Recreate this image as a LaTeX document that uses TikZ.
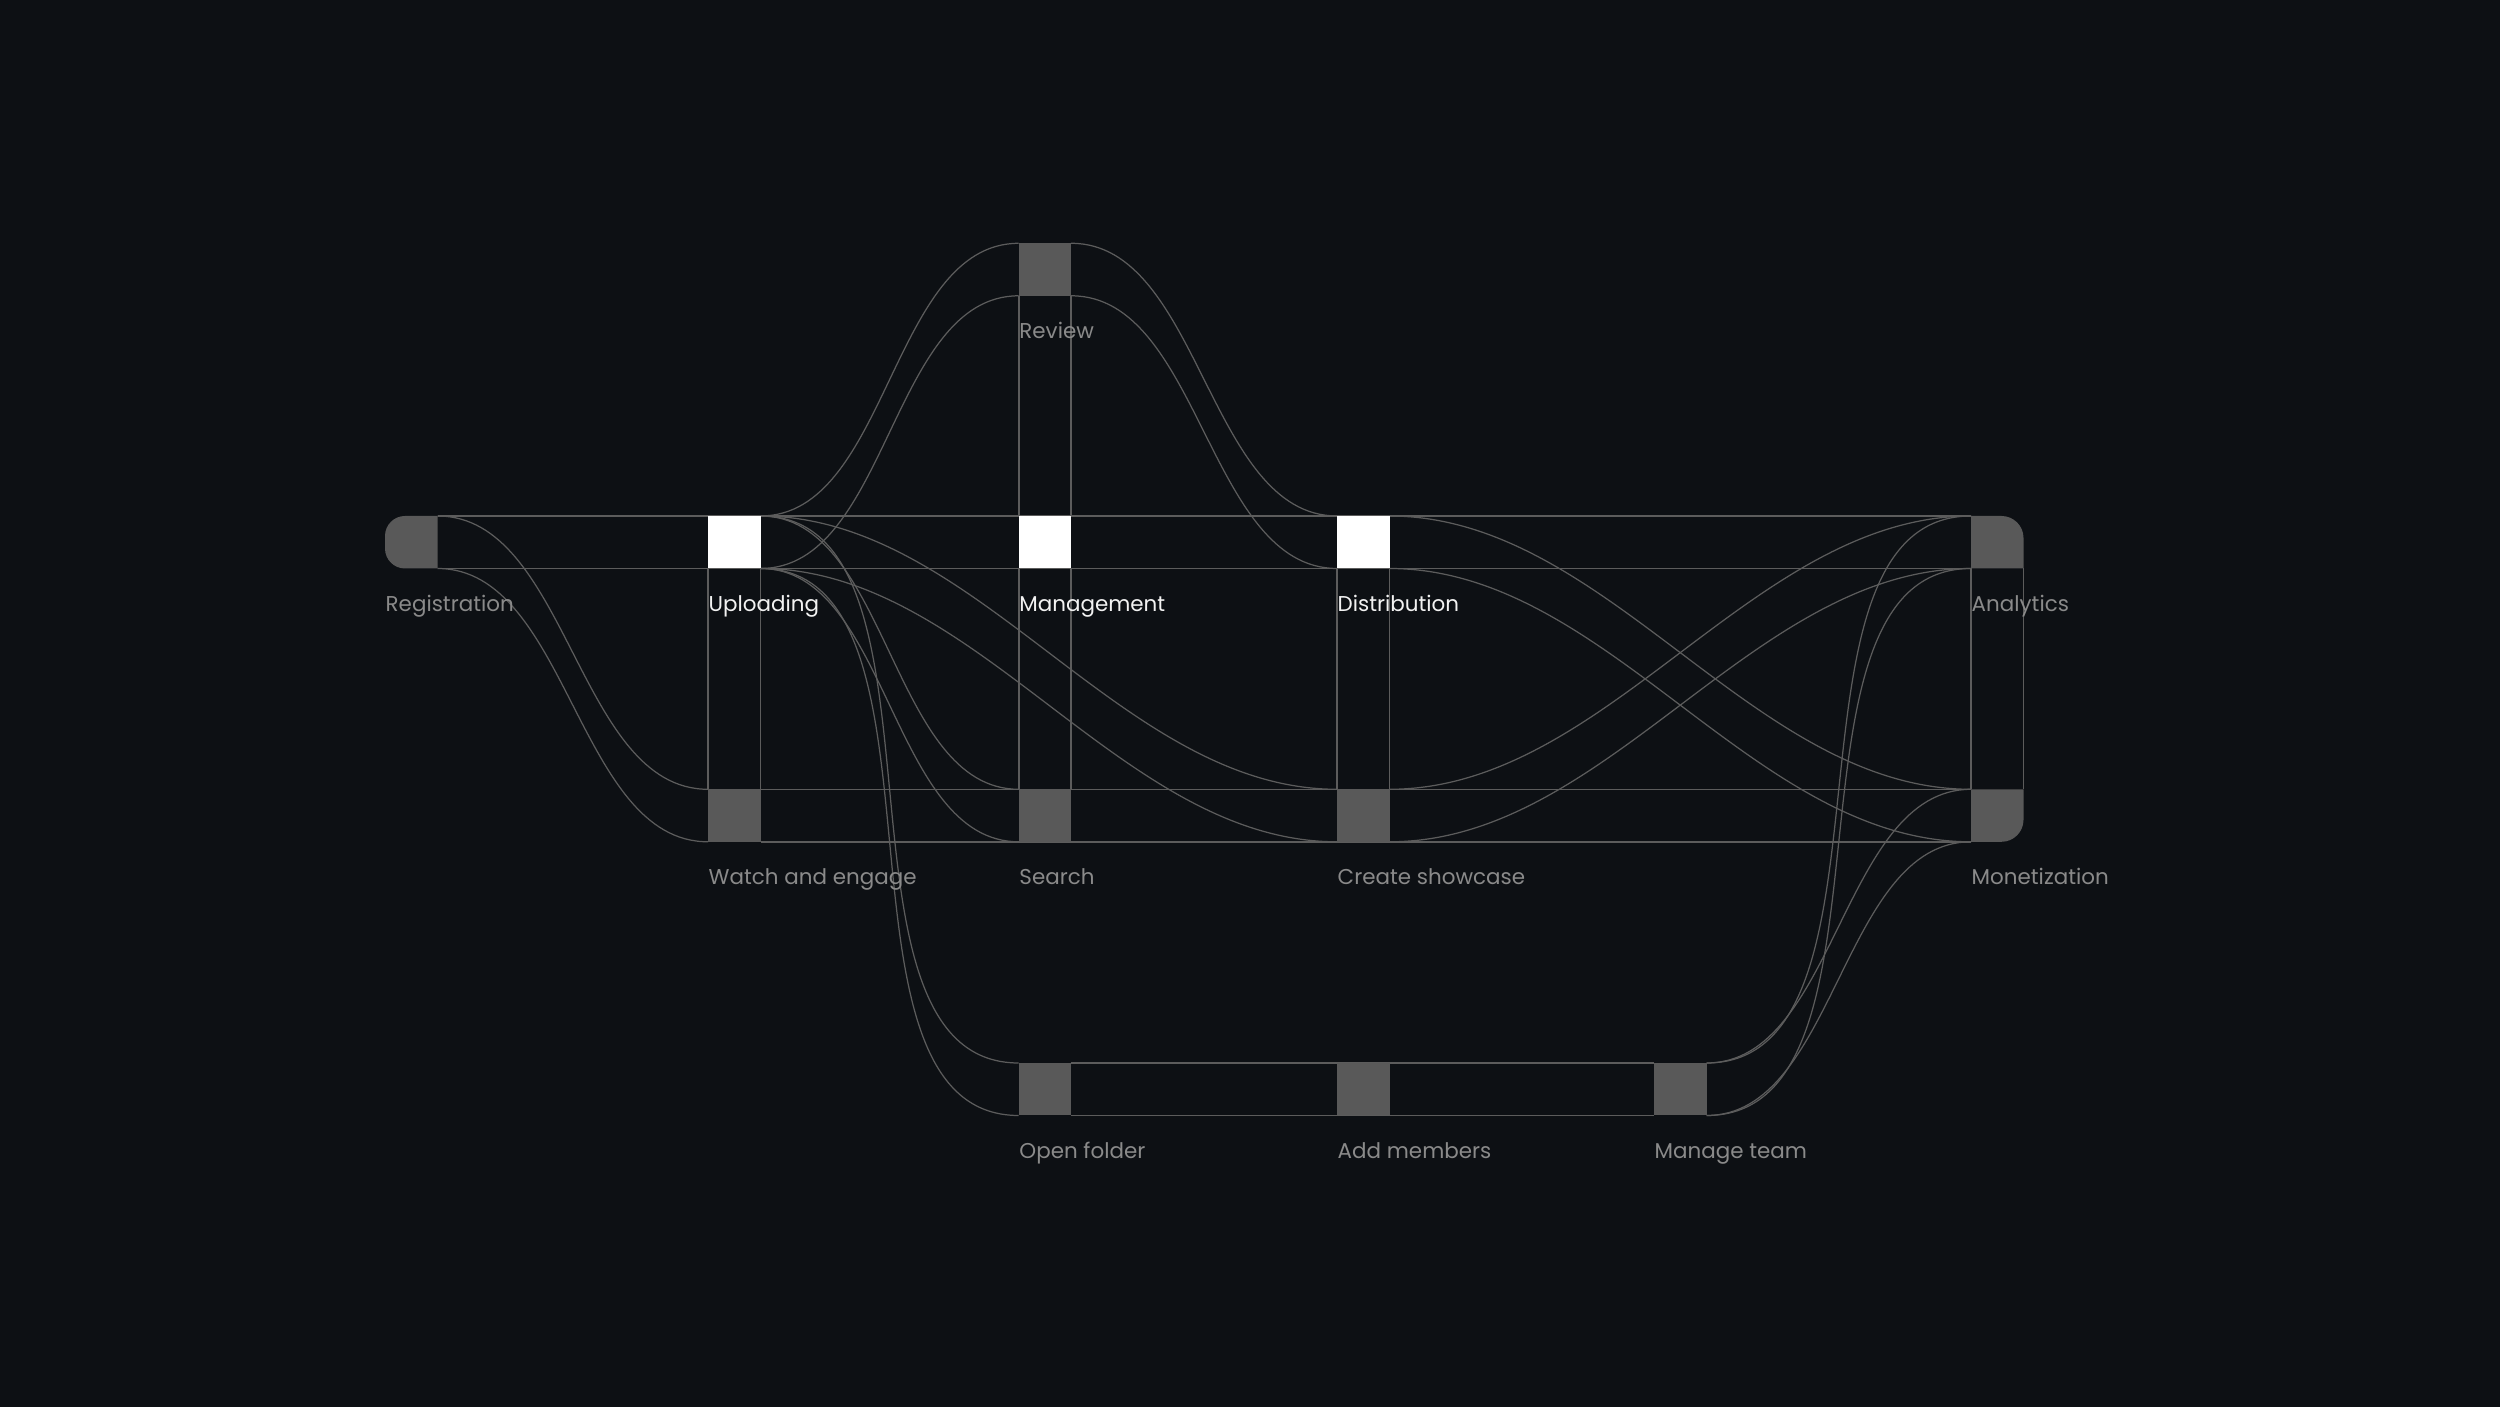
\documentclass[tikz,border=0pt]{standalone}
\usepackage{fontspec}
\setmainfont{Poppins}
\usetikzlibrary{positioning}
\definecolor{bgdark}{RGB}{13,16,20}
\definecolor{boxgray}{RGB}{89,89,89}
\definecolor{linegray}{RGB}{92,92,92}
\definecolor{txtgray}{RGB}{138,138,138}
\definecolor{txtwhite}{RGB}{242,242,242}
\begin{document}
\begin{tikzpicture}[
  box/.style={rectangle,minimum width=5.25mm,minimum height=5.25mm,inner sep=0,outer sep=0,anchor=north west},
  lbl/.style={inner sep=0,anchor=base west,text=txtgray,font=\fontsize{6.1pt}{7pt}\selectfont},
  lblon/.style={lbl,text=txtwhite},
  band/.style={draw=linegray,line width=0.45pt},
  curve/.style={draw=linegray,line width=0.35pt},
  flow/.style={out=0,in=180,looseness=0.87}]
\fill[bgdark] (0,0) rectangle (25,-14.07);
\useasboundingbox (0,0) rectangle (25,-14.07);
% boxes
\node[box] (rev) at (10.187,-2.433) {};
\node[box] (reg) at (3.85,-5.16) {};
\node[box] (upl) at (7.08,-5.16) {};
\node[box] (mgmt) at (10.187,-5.16) {};
\node[box] (dist) at (13.37,-5.16) {};
\node[box] (ana) at (19.71,-5.16) {};
\node[box] (watch) at (7.08,-7.893) {};
\node[box] (srch) at (10.187,-7.893) {};
\node[box] (show) at (13.37,-7.893) {};
\node[box] (mon) at (19.71,-7.893) {};
\node[box] (fold) at (10.187,-10.63) {};
\node[box] (memb) at (13.37,-10.63) {};
\node[box] (team) at (16.54,-10.63) {};
% straight rails
\foreach \a/\b in {reg/ana,watch/mon,fold/team} {
  \draw[band] (\a.north east) -- (\b.north west);
  \draw[band] (\a.south east) -- (\b.south west);
}
\foreach \a/\b in {upl/watch,rev/mgmt,mgmt/srch,dist/show,ana/mon} {
  \draw[band] (\a.south west) -- (\b.north west);
  \draw[band] (\a.south east) -- (\b.north east);
}
% curved flows
\foreach \a/\b in {reg/watch,upl/rev,rev/dist,upl/srch,upl/show,upl/fold,dist/mon,show/ana,team/ana,team/mon} {
  \draw[curve] (\a.north east) to[flow] (\b.north west);
  \draw[curve] (\a.south east) to[flow] (\b.south west);
}
% fills
\foreach \b in {upl,mgmt,dist}
  \fill[white] (\b.north west) rectangle (\b.south east);
\foreach \b in {rev,watch,srch,show,fold,memb,team}
  \fill[boxgray] (\b.north west) rectangle (\b.south east);
\fill[boxgray] (reg.north east) -- (reg.south east) -- ([xshift=2mm]reg.south west)
  arc[start angle=270,end angle=180,radius=2mm] -- ([yshift=-2mm]reg.north west)
  arc[start angle=180,end angle=90,radius=2mm] -- cycle;
\fill[boxgray] (ana.south west) -- (ana.north west) -- ([xshift=-2.2mm]ana.north east)
  arc[start angle=90,end angle=0,radius=2.2mm] -- (ana.south east) -- cycle;
\fill[boxgray] (mon.north west) -- (mon.north east) -- ([yshift=2.2mm]mon.south east)
  arc[start angle=0,end angle=-90,radius=2.2mm] -- (mon.south west) -- cycle;
% labels
\node[lbl] (revl) at ([yshift=-4.3mm]rev.south west) {Review};
\node[lbl] (regl) at ([yshift=-4.3mm]reg.south west) {Registration};
\node[lblon] (upll) at ([yshift=-4.3mm]upl.south west) {Uploading};
\node[lblon] (mgmtl) at ([yshift=-4.3mm]mgmt.south west) {Management};
\node[lblon] (distl) at ([yshift=-4.3mm]dist.south west) {Distribution};
\node[lbl] (anal) at ([yshift=-4.3mm]ana.south west) {Analytics};
\node[lbl] (watchl) at ([yshift=-4.3mm]watch.south west) {Watch and engage};
\node[lbl] (srchl) at ([yshift=-4.3mm]srch.south west) {Search};
\node[lbl] (showl) at ([yshift=-4.3mm]show.south west) {Create showcase};
\node[lbl] (monl) at ([yshift=-4.3mm]mon.south west) {Monetization};
\node[lbl] (foldl) at ([yshift=-4.3mm]fold.south west) {Open folder};
\node[lbl] (membl) at ([yshift=-4.3mm]memb.south west) {Add members};
\node[lbl] (teaml) at ([yshift=-4.3mm]team.south west) {Manage team};
\end{tikzpicture}
\end{document}
